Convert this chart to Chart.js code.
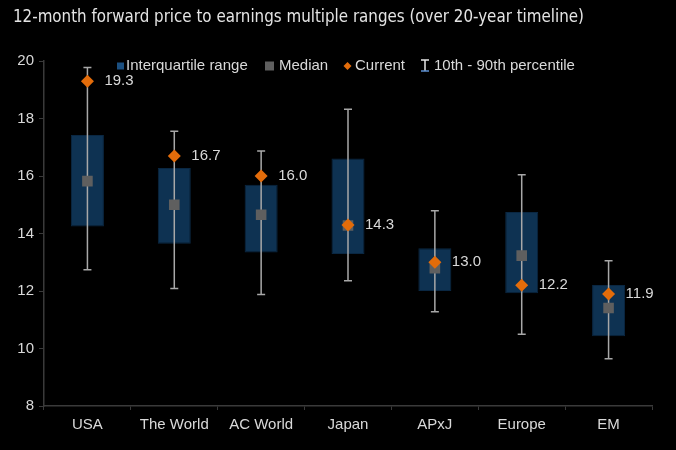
<!DOCTYPE html>
<html><head><meta charset="utf-8">
<script src="https://cdn.jsdelivr.net/npm/chart.js@4"></script>
<style>html,body{margin:0;padding:0;background:#000;}#wrap{width:676px;height:450px;position:relative;background:#000}</style>
</head><body><div id="wrap"><canvas id="c" width="676" height="450"></canvas></div>
<script>
const titleText = '12-month forward price to earnings multiple ranges (over 20-year timeline)';
const categories = ['USA','The World','AC World','Japan','APxJ','Europe','EM'];
const p10 = [12.74, 12.09, 11.88, 12.36, 11.28, 10.50, 9.64];
const p90 = [19.77, 17.56, 16.87, 18.32, 14.79, 16.04, 13.05];
const q1 = [14.24, 13.64, 13.34, 13.29, 12.00, 11.92, 10.43];
const q3 = [17.43, 16.28, 15.70, 16.61, 13.49, 14.75, 12.21];
const median = [15.82, 15.00, 14.65, 14.28, 12.79, 13.23, 11.41];
const current = [19.3, 16.7, 16.0, 14.3, 13.0, 12.2, 11.9];
const yTicks = [8, 10, 12, 14, 16, 18, 20];
const legendLabels = ['Interquartile range', 'Median', 'Current', '10th - 90th percentile'];

const BOX = '#0E3252', MED = '#5f5f5f', CUR = '#E36C0A', WH = '#a8a8a8', TXT = '#d9d9d9';
const FONT = '"Liberation Sans", Arial, sans-serif';

const overlay = {
  id: 'overlay',
  afterDatasetDraw(chart, args) {
    if (args.index !== 0) return;
    const ctx = chart.ctx, x = chart.scales.x, y = chart.scales.y;
    ctx.save();
    ctx.strokeStyle = WH; ctx.lineWidth = 1.5;
    categories.forEach((c, i) => {
      const px = x.getPixelForValue(i);
      const yt = y.getPixelForValue(p90[i]), yb = y.getPixelForValue(p10[i]);
      ctx.beginPath();
      ctx.moveTo(px, yt); ctx.lineTo(px, yb);
      ctx.moveTo(px - 4, yt); ctx.lineTo(px + 4, yt);
      ctx.moveTo(px - 4, yb); ctx.lineTo(px + 4, yb);
      ctx.stroke();
    });
    ctx.restore();
  },
  afterDraw(chart) {
    const ctx = chart.ctx, x = chart.scales.x, y = chart.scales.y;
    ctx.save();
    // title
    ctx.fillStyle = '#e4e4e4';
    ctx.font = '16.8px "DejaVu Sans Condensed", "DejaVu Sans", sans-serif';
    ctx.textBaseline = 'alphabetic'; ctx.textAlign = 'left';
    ctx.fillText(titleText, 13, 22);
    // value labels
    ctx.font = '15px ' + FONT; ctx.fillStyle = TXT; ctx.textBaseline = 'middle';
    categories.forEach((c, i) => {
      ctx.fillText(current[i].toFixed(1), x.getPixelForValue(i) + 17, y.getPixelForValue(current[i]));
    });
    // legend
    const ly = 66;
    ctx.fillStyle = '#1B4F80'; ctx.fillRect(117, ly - 3.5, 7, 7);
    ctx.fillStyle = TXT; ctx.fillText(legendLabels[0], 126, ly);
    ctx.fillStyle = MED; ctx.fillRect(265, ly - 4.5, 9, 9);
    ctx.fillStyle = TXT; ctx.fillText(legendLabels[1], 279, ly);
    ctx.fillStyle = CUR; ctx.beginPath();
    ctx.moveTo(347.5, ly - 4); ctx.lineTo(351.5, ly); ctx.lineTo(347.5, ly + 4); ctx.lineTo(343.5, ly); ctx.closePath(); ctx.fill();
    ctx.fillStyle = TXT; ctx.fillText(legendLabels[2], 355, ly);
    ctx.strokeStyle = '#e6e6e6'; ctx.lineWidth = 1.5; ctx.beginPath();
    ctx.moveTo(425, 60); ctx.lineTo(425, 71);
    ctx.moveTo(421, 60); ctx.lineTo(429, 60);
    ctx.stroke();
    ctx.strokeStyle = '#5b8fd0'; ctx.beginPath(); ctx.moveTo(421, 71); ctx.lineTo(429, 71); ctx.stroke();
    ctx.fillStyle = TXT; ctx.fillText(legendLabels[3], 434, ly);
    ctx.restore();
  }
};

new Chart(document.getElementById('c'), {
  type: 'bar',
  data: {
    labels: categories,
    datasets: [
      { label: 'Interquartile range', data: q1.map((v, i) => [v, q3[i]]), backgroundColor: BOX,
        borderColor: '#0a2742', borderWidth: 1, borderSkipped: false,
        barPercentage: 0.38, categoryPercentage: 1, order: 3 },
      { label: 'Median', type: 'line', data: median, showLine: false, pointStyle: 'rect',
        pointRadius: 7.5, pointBackgroundColor: MED, pointBorderColor: MED, pointBorderWidth: 0, order: 2 },
      { label: 'Current', type: 'line', data: current, showLine: false, pointStyle: 'rectRot',
        pointRadius: 6.5, pointBackgroundColor: CUR, pointBorderColor: CUR, pointBorderWidth: 0, order: 1 }
    ]
  },
  options: {
    responsive: false, animation: false, devicePixelRatio: 1,
    layout: { padding: { top: 61, left: 0, right: 24, bottom: 0 } },
    plugins: { legend: { display: false }, tooltip: { enabled: false }, title: { display: false } },
    scales: {
      x: {
        offset: true,
        grid: { offset: true, drawOnChartArea: false, drawTicks: true, tickLength: 4, color: '#3a3a3a' },
        border: { color: '#3a3a3a', width: 1.5 },
        ticks: { color: TXT, font: { family: FONT, size: 15 }, padding: 6, maxRotation: 0, autoSkip: false },
        afterFit(s) { s.height = 44; }
      },
      y: {
        min: 8, max: 20,
        afterBuildTicks(s) { s.ticks = yTicks.map(v => ({ value: v })); },
        grid: { drawOnChartArea: false, drawTicks: true, tickLength: 5, color: '#3a3a3a' },
        border: { color: '#3a3a3a', width: 1.5 },
        ticks: { color: TXT, font: { family: FONT, size: 15 }, padding: 5 },
        afterFit(s) { s.width = 44; }
      }
    }
  },
  plugins: [overlay]
});
</script>
</body></html>
